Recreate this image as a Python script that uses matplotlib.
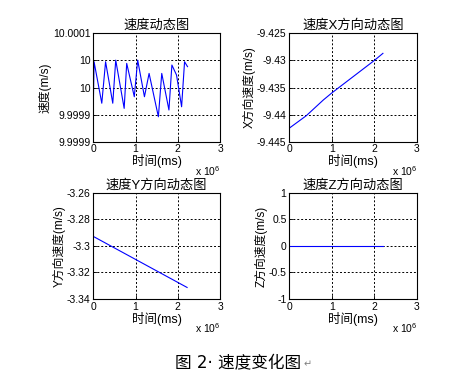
import matplotlib
matplotlib.use('Agg')
import matplotlib.pyplot as plt
import numpy as np

plt.rcParams['font.family'] = ['Liberation Sans', 'Noto Sans CJK SC', 'DejaVu Sans']
plt.rcParams['mathtext.default'] = 'regular'
plt.rcParams['axes.unicode_minus'] = False

# speed magnitude (time in 1e6 ms, value)
speed_t = [0.0, 0.017, 0.2, 0.29, 0.46, 0.53, 0.73, 0.79, 0.97, 1.05, 1.21, 1.32,
           1.54, 1.62, 1.79, 1.86, 1.97, 2.09, 2.16, 2.23]
speed_idx = [1.42, 2.95, 1.42, 2.95, 1.42, 3.01, 1.23, 2.89, 1.66, 3.01, 1.66, 2.52,
             0.92, 2.52, 1.17, 2.83, 2.46, 1.29, 2.95, 2.77]
speed_v = [9.99986 + i * 0.00006 for i in speed_idx]
speed_ticks = [9.99986, 9.99992, 9.99998, 10.00004, 10.0001]
speed_labels = ['9.9999', '9.9999', '10', '10', '10.0001']

vx_t = [0.0, 0.4, 0.8, 1.0, 1.4, 1.8, 2.0, 2.2]
vx_v = [-9.4425, -9.4402, -9.4373, -9.4360, -9.4336, -9.4312, -9.4300, -9.4287]

vy_t = [0.0, 2.22]
vy_v = [-3.2928, -3.3313]

vz_t = [0.0, 2.2]
vz_v = [0.0, 0.0]

x_ticks = [0, 1, 2, 3]

fig = plt.figure(figsize=(4.52, 3.89), dpi=100)

def setup(ax, title, ylabel, ylim, yticks, ylabels=None):
    ax.set_xlim(0, 3)
    ax.set_ylim(*ylim)
    ax.set_xticks(x_ticks)
    ax.set_yticks(yticks)
    if ylabels is not None:
        ax.set_yticklabels(ylabels)
    ax.tick_params(direction='in', length=3, width=0.6, labelsize=7.5, pad=2, colors='black')
    ax.grid(True, color='black', linestyle=(0, (2, 2)), linewidth=0.7)
    for s in ax.spines.values():
        s.set_color('black')
        s.set_linewidth(0.8)
    ax.set_title(title, fontsize=9.5, pad=3)
    ax.set_ylabel(ylabel, fontsize=8.5, labelpad=1)
    ax.set_xlabel('时间(ms)', fontsize=9, labelpad=0)
    ax.text(1.0, -0.27, 'x 10$^{6}$', transform=ax.transAxes, fontsize=7.5, ha='right', va='center')

ax1 = fig.add_axes([0.2065, 0.6357, 0.2803, 0.2787])
ax1.plot(speed_t, speed_v, color='#0000ff', lw=0.8)
setup(ax1, '速度动态图', '速度(m/s)', (9.99986, 10.0001), speed_ticks, speed_labels)

ax2 = fig.add_axes([0.640, 0.6357, 0.2825, 0.2787])
ax2.plot(vx_t, vx_v, color='#0000ff', lw=0.8)
setup(ax2, '速度X方向动态图', 'X方向速度(m/s)', (-9.445, -9.425),
      [-9.445, -9.44, -9.435, -9.43, -9.425], ['-9.445', '-9.44', '-9.435', '-9.43', '-9.425'])

ax3 = fig.add_axes([0.2065, 0.2314, 0.2803, 0.2725])
ax3.plot(vy_t, vy_v, color='#0000ff', lw=0.8)
setup(ax3, '速度Y方向动态图', 'Y方向速度(m/s)', (-3.34, -3.26),
      [-3.34, -3.32, -3.3, -3.28, -3.26], ['-3.34', '-3.32', '-3.3', '-3.28', '-3.26'])

ax4 = fig.add_axes([0.640, 0.2314, 0.2825, 0.2725])
ax4.plot(vz_t, vz_v, color='#0000ff', lw=0.8)
setup(ax4, '速度Z方向动态图', 'Z方向速度(m/s)', (-1, 1),
      [-1, -0.5, 0, 0.5, 1], ['-1', '-0.5', '0', '0.5', '1'])

fig.text(0.527, 0.067, '图 2· 速度变化图', fontsize=12, ha='center', va='center',
         family=['DejaVu Sans', 'Noto Sans CJK SC'])
fig.text(0.672, 0.064, '↵', fontsize=7, ha='left', va='center', color='#808080',
         family=['DejaVu Sans'])

fig.savefig('out.png', dpi=100)
